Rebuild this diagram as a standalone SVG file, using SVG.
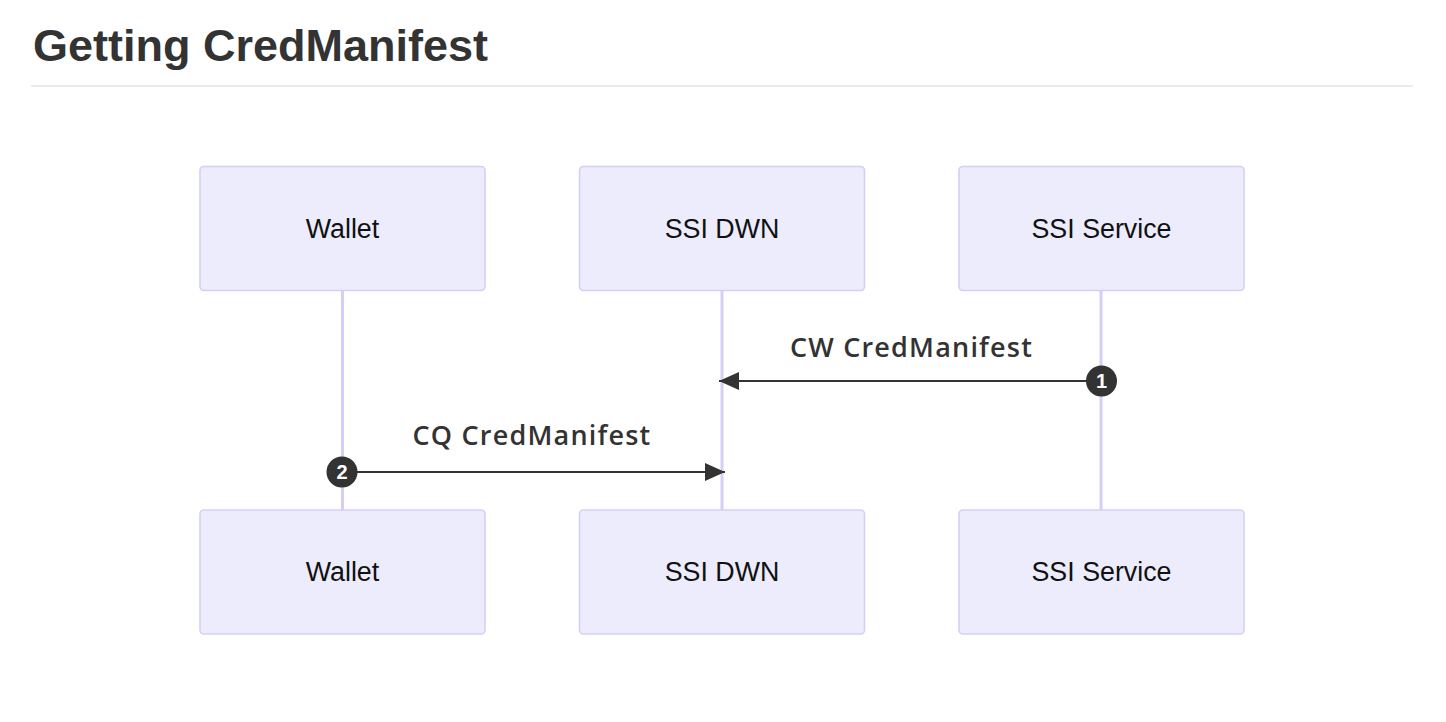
<svg xmlns="http://www.w3.org/2000/svg" width="1446" height="722" viewBox="0 0 1446 722">
<defs>
<style>
.actor rect{fill:#ececfd;stroke:#d6cff5;stroke-width:1.6}
.actor text{font-family:"Liberation Sans",Arial,sans-serif;font-size:26.8px;fill:#111;text-anchor:middle}
.life{stroke:#d6cff5;stroke-width:3}
.msg{stroke:#333;stroke-width:2;fill:none}
.lbl{font-family:"Open Sans","DejaVu Sans",sans-serif;font-weight:600;font-size:27px;letter-spacing:1.2px;fill:#333;text-anchor:middle}
.seq circle{fill:#333}
.seq text{font-family:"Liberation Sans",Arial,sans-serif;font-weight:bold;font-size:20px;fill:#fff;text-anchor:middle}
</style>
<marker id="arrow" viewBox="0 0 20 18" refX="20" refY="9" markerWidth="20" markerHeight="18" markerUnits="userSpaceOnUse" orient="auto">
<path d="M0,0 L20,9 L0,18 Z" fill="#333"/>
</marker>
</defs>
<rect width="1446" height="722" fill="#fff"/>
<text x="33" y="61" font-family="Liberation Sans,Arial,sans-serif" font-weight="bold" font-size="45" fill="#333">Getting CredManifest</text>
<line x1="31" y1="86" x2="1413" y2="86" stroke="#ebebeb" stroke-width="2"/>
<g id="lifelines">
<line class="life" x1="342.5" y1="290" x2="342.5" y2="510"/>
<line class="life" x1="722" y1="290" x2="722" y2="510"/>
<line class="life" x1="1101" y1="290" x2="1101" y2="510"/>
</g>
<g id="wallet-top" class="actor"><rect x="200" y="166.5" width="285" height="124" rx="4"/><text x="342.5" y="237.5">Wallet</text></g>
<g id="dwn-top" class="actor"><rect x="579.5" y="166.5" width="285" height="124" rx="4"/><text x="722" y="237.5">SSI DWN</text></g>
<g id="service-top" class="actor"><rect x="959" y="166.5" width="285" height="124" rx="4"/><text x="1101.5" y="237.5">SSI Service</text></g>
<g id="wallet-bottom" class="actor"><rect x="200" y="510" width="285" height="124" rx="4"/><text x="342.5" y="581">Wallet</text></g>
<g id="dwn-bottom" class="actor"><rect x="579.5" y="510" width="285" height="124" rx="4"/><text x="722" y="581">SSI DWN</text></g>
<g id="service-bottom" class="actor"><rect x="959" y="510" width="285" height="124" rx="4"/><text x="1101.5" y="581">SSI Service</text></g>
<g id="connectors">
<text class="lbl" x="911.5" y="357">CW CredManifest</text>
<line class="msg" x1="1101" y1="381" x2="719" y2="381" marker-end="url(#arrow)"/>
<text class="lbl" x="532" y="445">CQ CredManifest</text>
<line class="msg" x1="342" y1="472" x2="725" y2="472" marker-end="url(#arrow)"/>
</g>
<g id="seq1" class="seq"><circle cx="1101.5" cy="381" r="15.5"/><text x="1101.5" y="388">1</text></g>
<g id="seq2" class="seq"><circle cx="342" cy="472" r="15.5"/><text x="342" y="479">2</text></g>
</svg>
